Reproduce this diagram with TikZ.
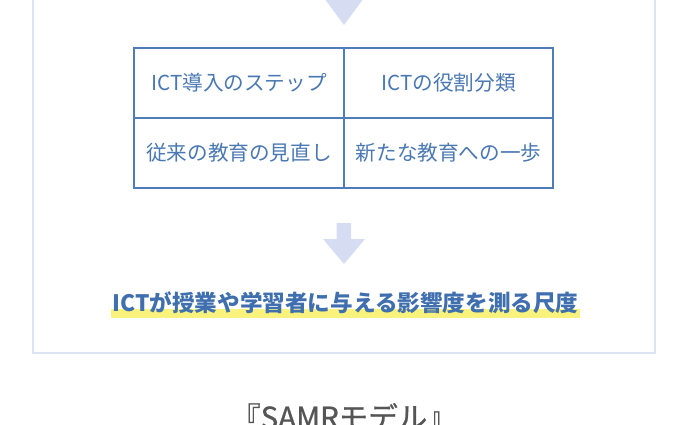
\documentclass[tikz,border=0pt]{standalone}
\usepackage{fontspec}
\setmainfont{Noto Sans CJK JP}
\newfontfamily\titlefont[FakeBold=0.8]{Noto Sans CJK JP}
\definecolor{framec}{HTML}{DDE3F5}
\definecolor{arrowc}{HTML}{D6DDF3}
\definecolor{tablec}{HTML}{4F7DBB}
\definecolor{textc}{HTML}{4A78B3}
\definecolor{boldc}{HTML}{3F6FAE}
\definecolor{hilite}{HTML}{F9F27C}
\definecolor{titlec}{HTML}{555555}
\tikzset{
  cellbox/.style={draw=tablec, line width=2pt, minimum width=209.4pt, minimum height=69.6pt, inner sep=0pt, text=textc, font=\fontsize{20.6}{24}\selectfont},
}
\begin{document}
\begin{tikzpicture}[x=1pt,y=-1pt]
\useasboundingbox (0,0) rectangle (688,424);
\fill[white] (0,0) rectangle (688,424);
% outer frame
\draw[framec, line width=2pt] (33,-10) -- (33,353) -- (655,353) -- (655,-10);
% top triangle (arrow head)
\fill[arrowc] (324,-2) -- (364,-2) -- (344,25) -- cycle;
% table cells
\node[cellbox] (c11) at (239,83) {ICT導入のステップ};
\node[cellbox] (c12) at (448.6,83) {ICTの役割分類};
\node[cellbox] (c21) at (239,152.8) {従来の教育の見直し};
\node[cellbox] (c22) at (448.6,152.8) {新たな教育への一歩};
% down arrow
\fill[arrowc] (336.5,223) -- (351,223) -- (351,239) -- (365,239) -- (344,264) -- (323,239) -- (336.5,239) -- cycle;
% highlight and bold text
\fill[hilite] (111,309) rectangle (580,317.5);
\node[text=boldc, font=\fontsize{22.6}{26}\selectfont\bfseries, inner sep=0pt] (key) at (345.5,303) {ICTが授業や学習者に与える影響度を測る尺度};
% title
\node[text=titlec, font=\fontsize{29.5}{34}\selectfont\titlefont, inner sep=0pt] (title) at (344,417) {『SAMRモデル』};
\end{tikzpicture}
\end{document}
